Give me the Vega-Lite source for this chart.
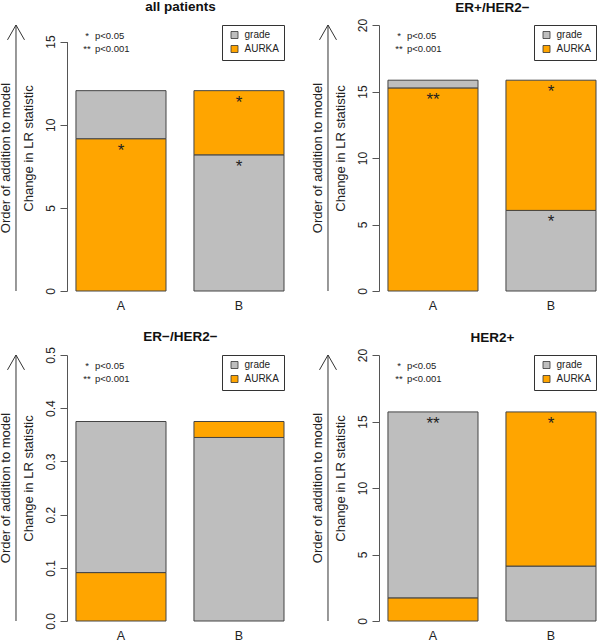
{
  "$schema": "https://vega.github.io/schema/vega-lite/v6.json",
  "padding": 0,
  "background": "white",
  "columns": 4,
  "bounds": "flush",
  "align": "each",
  "spacing": {"row": 64, "column": 28},
  "resolve": {"scale": {"color": "independent"}, "legend": {"color": "independent"}},
  "config": {
    "view": {"stroke": null},
    "font": "Liberation Sans",
    "axis": {"grid": false, "labelFont": "Liberation Sans", "titleFont": "Liberation Sans", "labelColor": "#222", "titleColor": "#222", "domainColor": "#555", "tickColor": "#555"},
    "axisY": {"labelAngle": -90, "labelAlign": "center", "labelBaseline": "bottom", "labelFontSize": 12, "labelPadding": 3, "tickSize": 7, "titleFontSize": 13, "titleFontWeight": "normal", "titlePadding": 9, "titleY": 123, "labelOverlap": false, "labelFlush": false},
    "axisX": {"labelAngle": 0, "domain": false, "ticks": false, "labelFontSize": 12.5, "labelPadding": 8, "title": null},
    "title": {"font": "Liberation Sans", "fontSize": 13.5, "fontWeight": "bold", "color": "#111", "frame": "group", "dx": 5},
    "legend": {"title": null, "orient": "top-right", "offset": 0, "fillColor": "white", "strokeColor": "#333", "padding": 5, "symbolType": "square", "symbolSize": 49, "symbolStrokeColor": "#333", "symbolStrokeWidth": 0.8, "symbolOffset": 2.5, "labelFont": "Liberation Sans", "labelFontSize": 10, "labelOffset": 5, "labelColor": "#222", "rowPadding": 2}
  },
  "concat": [
    {
      "width": 39, "height": 266,
      "data": {"values": [{"label": "Order of addition to model"}]},
      "layer": [
        {"mark": {"type": "rule", "color": "#333", "strokeWidth": 1},
         "encoding": {"x": {"datum": 0.41, "type": "quantitative", "scale": {"domain": [0, 1]}, "axis": null},
                      "y": {"datum": 0, "type": "quantitative", "scale": {"domain": [0, 1]}, "axis": null},
                      "y2": {"datum": 1}}},
        {"mark": {"type": "point", "shape": "M-1,1.75L0,0L1,1.75", "filled": false, "stroke": "#333", "strokeWidth": 1, "size": 289, "opacity": 1},
         "encoding": {"x": {"datum": 0.41, "type": "quantitative"}, "y": {"datum": 1, "type": "quantitative"}}},
        {"mark": {"type": "text", "angle": 270, "baseline": "alphabetic", "align": "center", "fontSize": 13, "color": "#222"},
         "encoding": {"x": {"datum": 0.26, "type": "quantitative"}, "y": {"datum": 0.5, "type": "quantitative"}, "text": {"field": "label"}}}
      ]
    },
    {
      "width": 217, "height": 266,
      "title": {"text": "all patients", "offset": 11},
      "data": {"values": [
        {"bar": "A", "variable": "AURKA", "step": 1, "value": 9.16, "sig": "*"},
        {"bar": "A", "variable": "grade", "step": 2, "value": 2.89, "sig": ""},
        {"bar": "B", "variable": "grade", "step": 1, "value": 8.19, "sig": "*"},
        {"bar": "B", "variable": "AURKA", "step": 2, "value": 3.86, "sig": "*"}
      ]},
      "layer": [
        {"transform": [{"stack": "value", "groupby": ["bar"], "sort": [{"field": "step", "order": "ascending"}], "as": ["v0", "v1"]}],
         "mark": {"type": "bar", "stroke": "#444", "strokeWidth": 1},
         "encoding": {
           "x": {"field": "bar", "type": "nominal", "scale": {"paddingInner": 0.237, "paddingOuter": 0.038, "align": 1}},
           "y": {"field": "v1", "type": "quantitative", "scale": {"domain": [0, 16], "nice": false}, "axis": {"title": "Change in LR statistic", "values": [0, 5, 10, 15], "domainDash": [249.4, 1000]}},
           "y2": {"field": "v0"},
           "color": {"field": "variable", "type": "nominal", "scale": {"domain": ["grade", "AURKA"], "range": ["#bebebe", "#ffa500"]}}
         }},
        {"transform": [{"stack": "value", "groupby": ["bar"], "sort": [{"field": "step", "order": "ascending"}], "as": ["v0", "v1"]}],
         "mark": {"type": "text", "fontSize": 17, "baseline": "alphabetic", "dy": 17, "color": "#222"},
         "encoding": {"x": {"field": "bar", "type": "nominal"}, "y": {"field": "v1", "type": "quantitative"}, "text": {"field": "sig"}}},
        {"data": {"values": [{"sym": ["*", "**"], "label": ["p<0.05", "p<0.001"]}]},
         "layer": [
           {"mark": {"type": "text", "align": "center", "baseline": "alphabetic", "fontSize": 9.5, "lineHeight": 12.5, "dx": -34, "dy": 14, "color": "#222"},
            "encoding": {"x": {"datum": "A"}, "y": {"datum": 16}, "text": {"field": "sym"}}},
           {"mark": {"type": "text", "align": "left", "baseline": "alphabetic", "fontSize": 9.5, "lineHeight": 12.5, "dx": -26, "dy": 14, "color": "#222"},
            "encoding": {"x": {"datum": "A"}, "y": {"datum": 16}, "text": {"field": "label"}}}
         ]}
      ]
    },
    {
      "width": 39, "height": 266,
      "data": {"values": [{"label": "Order of addition to model"}]},
      "layer": [
        {"mark": {"type": "rule", "color": "#333", "strokeWidth": 1},
         "encoding": {"x": {"datum": 0.41, "type": "quantitative", "scale": {"domain": [0, 1]}, "axis": null},
                      "y": {"datum": 0, "type": "quantitative", "scale": {"domain": [0, 1]}, "axis": null},
                      "y2": {"datum": 1}}},
        {"mark": {"type": "point", "shape": "M-1,1.75L0,0L1,1.75", "filled": false, "stroke": "#333", "strokeWidth": 1, "size": 289, "opacity": 1},
         "encoding": {"x": {"datum": 0.41, "type": "quantitative"}, "y": {"datum": 1, "type": "quantitative"}}},
        {"mark": {"type": "text", "angle": 270, "baseline": "alphabetic", "align": "center", "fontSize": 13, "color": "#222"},
         "encoding": {"x": {"datum": 0.26, "type": "quantitative"}, "y": {"datum": 0.5, "type": "quantitative"}, "text": {"field": "label"}}}
      ]
    },
    {
      "width": 217, "height": 266,
      "title": {"text": "ER+/HER2−", "offset": 4.3},
      "data": {"values": [
        {"bar": "A", "variable": "AURKA", "step": 1, "value": 15.27, "sig": "**"},
        {"bar": "A", "variable": "grade", "step": 2, "value": 0.58, "sig": ""},
        {"bar": "B", "variable": "grade", "step": 1, "value": 6.06, "sig": "*"},
        {"bar": "B", "variable": "AURKA", "step": 2, "value": 9.79, "sig": "*"}
      ]},
      "layer": [
        {"transform": [{"stack": "value", "groupby": ["bar"], "sort": [{"field": "step", "order": "ascending"}], "as": ["v0", "v1"]}],
         "mark": {"type": "bar", "stroke": "#444", "strokeWidth": 1},
         "encoding": {
           "x": {"field": "bar", "type": "nominal", "scale": {"paddingInner": 0.237, "paddingOuter": 0.038, "align": 1}},
           "y": {"field": "v1", "type": "quantitative", "scale": {"domain": [0, 20], "nice": false}, "axis": {"title": "Change in LR statistic", "values": [0, 5, 10, 15, 20]}},
           "y2": {"field": "v0"},
           "color": {"field": "variable", "type": "nominal", "scale": {"domain": ["grade", "AURKA"], "range": ["#bebebe", "#ffa500"]}}
         }},
        {"transform": [{"stack": "value", "groupby": ["bar"], "sort": [{"field": "step", "order": "ascending"}], "as": ["v0", "v1"]}],
         "mark": {"type": "text", "fontSize": 17, "baseline": "alphabetic", "dy": 17, "color": "#222"},
         "encoding": {"x": {"field": "bar", "type": "nominal"}, "y": {"field": "v1", "type": "quantitative"}, "text": {"field": "sig"}}},
        {"data": {"values": [{"sym": ["*", "**"], "label": ["p<0.05", "p<0.001"]}]},
         "layer": [
           {"mark": {"type": "text", "align": "center", "baseline": "alphabetic", "fontSize": 9.5, "lineHeight": 12.5, "dx": -34, "dy": 14, "color": "#222"},
            "encoding": {"x": {"datum": "A"}, "y": {"datum": 20}, "text": {"field": "sym"}}},
           {"mark": {"type": "text", "align": "left", "baseline": "alphabetic", "fontSize": 9.5, "lineHeight": 12.5, "dx": -26, "dy": 14, "color": "#222"},
            "encoding": {"x": {"datum": "A"}, "y": {"datum": 20}, "text": {"field": "label"}}}
         ]}
      ]
    },
    {
      "width": 39, "height": 266,
      "data": {"values": [{"label": "Order of addition to model"}]},
      "layer": [
        {"mark": {"type": "rule", "color": "#333", "strokeWidth": 1},
         "encoding": {"x": {"datum": 0.41, "type": "quantitative", "scale": {"domain": [0, 1]}, "axis": null},
                      "y": {"datum": 0, "type": "quantitative", "scale": {"domain": [0, 1]}, "axis": null},
                      "y2": {"datum": 1}}},
        {"mark": {"type": "point", "shape": "M-1,1.75L0,0L1,1.75", "filled": false, "stroke": "#333", "strokeWidth": 1, "size": 289, "opacity": 1},
         "encoding": {"x": {"datum": 0.41, "type": "quantitative"}, "y": {"datum": 1, "type": "quantitative"}}},
        {"mark": {"type": "text", "angle": 270, "baseline": "alphabetic", "align": "center", "fontSize": 13, "color": "#222"},
         "encoding": {"x": {"datum": 0.26, "type": "quantitative"}, "y": {"datum": 0.5, "type": "quantitative"}, "text": {"field": "label"}}}
      ]
    },
    {
      "width": 217, "height": 266,
      "title": {"text": "ER−/HER2−", "offset": 2.7},
      "data": {"values": [
        {"bar": "A", "variable": "AURKA", "step": 1, "value": 0.091, "sig": ""},
        {"bar": "A", "variable": "grade", "step": 2, "value": 0.284, "sig": ""},
        {"bar": "B", "variable": "grade", "step": 1, "value": 0.345, "sig": ""},
        {"bar": "B", "variable": "AURKA", "step": 2, "value": 0.03, "sig": ""}
      ]},
      "layer": [
        {"transform": [{"stack": "value", "groupby": ["bar"], "sort": [{"field": "step", "order": "ascending"}], "as": ["v0", "v1"]}],
         "mark": {"type": "bar", "stroke": "#444", "strokeWidth": 1},
         "encoding": {
           "x": {"field": "bar", "type": "nominal", "scale": {"paddingInner": 0.237, "paddingOuter": 0.038, "align": 1}},
           "y": {"field": "v1", "type": "quantitative", "scale": {"domain": [0, 0.5], "nice": false}, "axis": {"title": "Change in LR statistic", "values": [0, 0.1, 0.2, 0.3, 0.4, 0.5], "format": ".1f"}},
           "y2": {"field": "v0"},
           "color": {"field": "variable", "type": "nominal", "scale": {"domain": ["grade", "AURKA"], "range": ["#bebebe", "#ffa500"]}}
         }},
        {"data": {"values": [{"sym": ["*", "**"], "label": ["p<0.05", "p<0.001"]}]},
         "layer": [
           {"mark": {"type": "text", "align": "center", "baseline": "alphabetic", "fontSize": 9.5, "lineHeight": 12.5, "dx": -34, "dy": 14, "color": "#222"},
            "encoding": {"x": {"datum": "A"}, "y": {"datum": 0.5}, "text": {"field": "sym"}}},
           {"mark": {"type": "text", "align": "left", "baseline": "alphabetic", "fontSize": 9.5, "lineHeight": 12.5, "dx": -26, "dy": 14, "color": "#222"},
            "encoding": {"x": {"datum": "A"}, "y": {"datum": 0.5}, "text": {"field": "label"}}}
         ]}
      ]
    },
    {
      "width": 39, "height": 266,
      "data": {"values": [{"label": "Order of addition to model"}]},
      "layer": [
        {"mark": {"type": "rule", "color": "#333", "strokeWidth": 1},
         "encoding": {"x": {"datum": 0.41, "type": "quantitative", "scale": {"domain": [0, 1]}, "axis": null},
                      "y": {"datum": 0, "type": "quantitative", "scale": {"domain": [0, 1]}, "axis": null},
                      "y2": {"datum": 1}}},
        {"mark": {"type": "point", "shape": "M-1,1.75L0,0L1,1.75", "filled": false, "stroke": "#333", "strokeWidth": 1, "size": 289, "opacity": 1},
         "encoding": {"x": {"datum": 0.41, "type": "quantitative"}, "y": {"datum": 1, "type": "quantitative"}}},
        {"mark": {"type": "text", "angle": 270, "baseline": "alphabetic", "align": "center", "fontSize": 13, "color": "#222"},
         "encoding": {"x": {"datum": 0.26, "type": "quantitative"}, "y": {"datum": 0.5, "type": "quantitative"}, "text": {"field": "label"}}}
      ]
    },
    {
      "width": 217, "height": 266,
      "title": {"text": "HER2+", "offset": 4.3},
      "data": {"values": [
        {"bar": "A", "variable": "AURKA", "step": 1, "value": 1.74, "sig": ""},
        {"bar": "A", "variable": "grade", "step": 2, "value": 13.98, "sig": "**"},
        {"bar": "B", "variable": "grade", "step": 1, "value": 4.13, "sig": ""},
        {"bar": "B", "variable": "AURKA", "step": 2, "value": 11.59, "sig": "*"}
      ]},
      "layer": [
        {"transform": [{"stack": "value", "groupby": ["bar"], "sort": [{"field": "step", "order": "ascending"}], "as": ["v0", "v1"]}],
         "mark": {"type": "bar", "stroke": "#444", "strokeWidth": 1},
         "encoding": {
           "x": {"field": "bar", "type": "nominal", "scale": {"paddingInner": 0.237, "paddingOuter": 0.038, "align": 1}},
           "y": {"field": "v1", "type": "quantitative", "scale": {"domain": [0, 20], "nice": false}, "axis": {"title": "Change in LR statistic", "values": [0, 5, 10, 15, 20]}},
           "y2": {"field": "v0"},
           "color": {"field": "variable", "type": "nominal", "scale": {"domain": ["grade", "AURKA"], "range": ["#bebebe", "#ffa500"]}}
         }},
        {"transform": [{"stack": "value", "groupby": ["bar"], "sort": [{"field": "step", "order": "ascending"}], "as": ["v0", "v1"]}],
         "mark": {"type": "text", "fontSize": 17, "baseline": "alphabetic", "dy": 17, "color": "#222"},
         "encoding": {"x": {"field": "bar", "type": "nominal"}, "y": {"field": "v1", "type": "quantitative"}, "text": {"field": "sig"}}},
        {"data": {"values": [{"sym": ["*", "**"], "label": ["p<0.05", "p<0.001"]}]},
         "layer": [
           {"mark": {"type": "text", "align": "center", "baseline": "alphabetic", "fontSize": 9.5, "lineHeight": 12.5, "dx": -34, "dy": 14, "color": "#222"},
            "encoding": {"x": {"datum": "A"}, "y": {"datum": 20}, "text": {"field": "sym"}}},
           {"mark": {"type": "text", "align": "left", "baseline": "alphabetic", "fontSize": 9.5, "lineHeight": 12.5, "dx": -26, "dy": 14, "color": "#222"},
            "encoding": {"x": {"datum": "A"}, "y": {"datum": 20}, "text": {"field": "label"}}}
         ]}
      ]
    }
  ]
}
